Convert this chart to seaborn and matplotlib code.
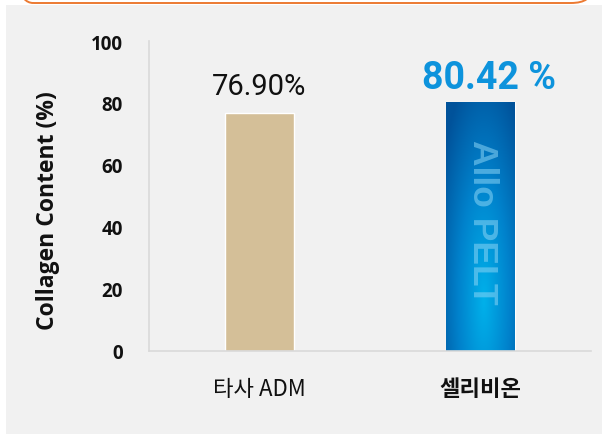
import matplotlib
matplotlib.use("Agg")
import matplotlib.pyplot as plt
import seaborn as sns
import numpy as np
import pandas as pd
from matplotlib.colors import LinearSegmentedColormap
from matplotlib.patches import FancyBboxPatch, Rectangle

# data
categories = ["타사 ADM", "셀리비온"]
collagen = [76.90, 80.42]
value_labels = ["76.90%", "80.42 %"]
y_ticks = [0, 20, 40, 60, 80, 100]

bar_colors = ["#d4bf98", "#0078c4"]
panel_color = "#f1f1f1"

sns.set_theme(style="white")
plt.rcParams["font.family"] = ["Open Sans", "Noto Sans CJK KR", "DejaVu Sans"]

fig = plt.figure(figsize=(6.02, 4.35), dpi=100)
fig.patch.set_facecolor("white")

# gray background panel and orange box edge at the top (behind the axes)
fig.patches.append(Rectangle((6 / 602, 0), 596 / 602, 1 - 6 / 435,
                             transform=fig.transFigure, facecolor=panel_color,
                             edgecolor="none", zorder=-2))
fig.patches.append(FancyBboxPatch((12 / 602, 1 - 4 / 435), 580 / 602, 0.2,
                                  boxstyle="round,pad=0,rounding_size=0.035",
                                  transform=fig.transFigure, facecolor="none",
                                  edgecolor="#ec7a32", linewidth=1.4, zorder=-1))

ax = fig.add_axes([149 / 602, 1 - 352 / 435, 442 / 602, 310 / 435])
ax.set_facecolor("none")

df = pd.DataFrame({"cat": categories, "val": collagen})
sns.barplot(data=df, x="cat", y="val", hue="cat", palette=bar_colors,
            width=0.31, legend=False, ax=ax, saturation=1)

ax.set_ylim(0, 100)
ax.set_xlim(-0.5, 1.5)
ax.set_yticks(y_ticks)
ax.set_xlabel("")
ax.set_ylabel("Collagen Content (%)", fontsize=16.5, fontweight="bold",
              color="#111111", va="center")
ax.yaxis.set_label_coords(-0.228, 0.455)

for s in ["top", "right"]:
    ax.spines[s].set_visible(False)
for s in ["left", "bottom"]:
    ax.spines[s].set_color("#d9d9d9")
    ax.spines[s].set_linewidth(1.2)

ax.tick_params(axis="y", length=0, pad=19, labelsize=13.5, labelcolor="#111111")
for lab in ax.get_yticklabels():
    lab.set_fontweight("bold")
ax.tick_params(axis="x", length=0, pad=19, labelcolor="#111111")
for i, lab in enumerate(ax.get_xticklabels()):
    lab.set_family(["Noto Sans CJK KR", "DejaVu Sans"])
    lab.set_fontsize(16)
    if i == 1:
        lab.set_fontweight("bold")

# gradient fill on the second bar
bar = ax.patches[1]
x0, w = bar.get_x(), bar.get_width()
h = bar.get_height()
u, v = np.meshgrid(np.linspace(0, 1, 80), np.linspace(1, 0, 200))
d = np.sqrt(((u - 0.55) / 0.75) ** 2 + ((v - 0.2) / 0.95) ** 2)
t = np.clip(1 - d, 0, 1)
cmap = LinearSegmentedColormap.from_list("blue", ["#00529a", "#0082cc", "#00b0ea"])
img = ax.imshow(t, cmap=cmap, extent=[x0, x0 + w, 0, h], aspect="auto",
                origin="upper", zorder=bar.get_zorder() + 0.1)
img.set_clip_path(bar)
ax.set_xlim(-0.5, 1.5)
ax.set_ylim(0, 100)

ax.text(x0 + w / 2 + 0.01, h * 0.52, "Allo PELT", rotation=-90, ha="center", va="center",
        fontsize=25.5, fontweight="bold", family="Liberation Sans",
        color="#8ad4f5", alpha=0.55, zorder=5)

# value labels above bars
ax.text(0, collagen[0] + 4, value_labels[0], ha="center", va="bottom",
        fontsize=21, family="Roboto", color="#111111")
ax.text(1.04, collagen[1] + 1.8, value_labels[1], ha="center", va="bottom",
        fontsize=27, family="Roboto", fontweight="bold", color="#0d93dc")

fig.savefig("out.png", dpi=100, facecolor=fig.get_facecolor())
